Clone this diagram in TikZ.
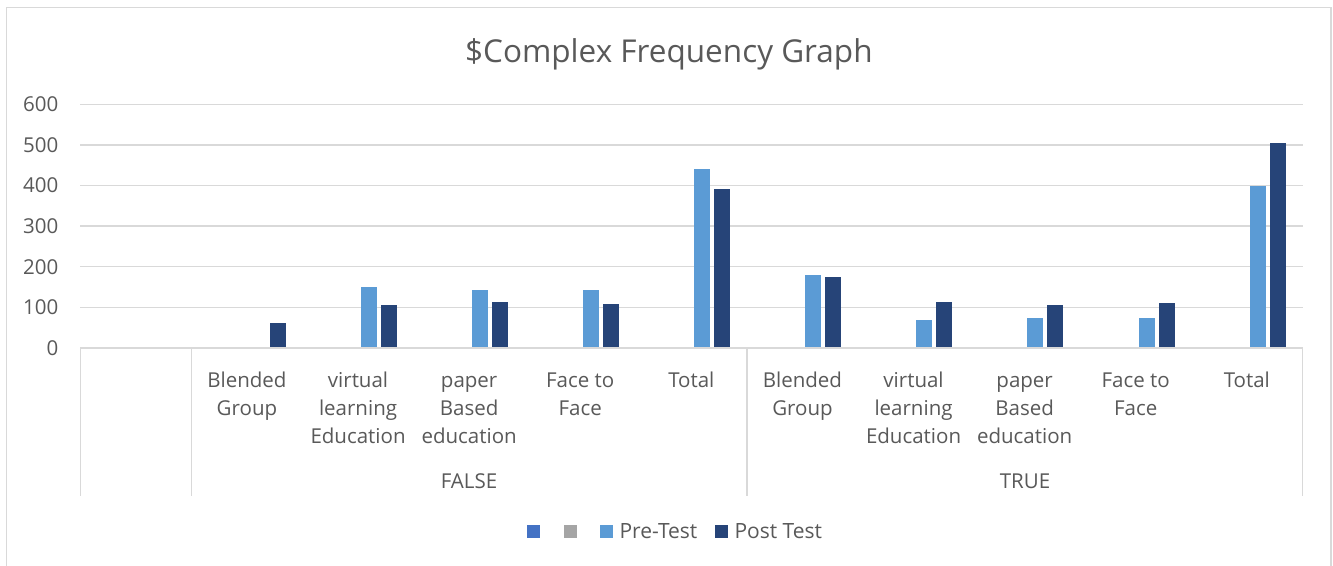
\documentclass[tikz,border=0pt]{standalone}
\usepackage{fontspec}
\setmainfont{Open Sans}
\definecolor{gridc}{HTML}{D9D9D9}
\definecolor{txt}{HTML}{595959}
\definecolor{prec}{HTML}{5B9BD5}
\definecolor{postc}{HTML}{264478}
\definecolor{sone}{HTML}{4472C4}
\definecolor{stwo}{HTML}{A5A5A5}
\newcommand\barpair[3]{%
  \pgfmathsetmacro\cx{80.3+111.1*(#1+0.5)}%
  \fill[prec] (\cx+2.8,348) rectangle (\cx+18.8,348-#2*0.4062);
  \fill[postc] (\cx+22.8,348) rectangle (\cx+38.8,348-#3*0.4062);
}
\newcommand\catlabel[2]{%
  \pgfmathsetmacro\cx{80.3+111.1*(#1+0.5)}%
  \node[catlab] at (\cx,367.4) {\strut #2};
}
\begin{document}
\begin{tikzpicture}[x=1pt,y=-1pt,
  gridline/.style={draw=gridc,line width=1.3pt},
  lab/.style={text=txt,inner sep=0pt,font=\fontsize{20.5}{28}\selectfont},
  catlab/.style={lab,anchor=north,align=center},
  legsq/.style={minimum size=13pt,inner sep=0pt,anchor=north west}]
\useasboundingbox (0,0) rectangle (1333,565);
\fill[white] (0,0) rectangle (1333,565);
% frame
\draw[draw=gridc,line width=1.5pt] (6.5,570) -- (6.5,7.5) -- (1331,7.5) -- (1331,570);
% title
\node[text=txt,inner sep=0pt,anchor=base,font=\fontsize{31.5}{36}\selectfont] (title) at (668.9,62.3) {\$Complex Frequency Graph};
% gridlines and y labels
\foreach \v in {1,...,6} {
  \draw[gridline] (80.3,348-\v*40.62) -- (1302.7,348-\v*40.62);
}
\foreach \v in {0,...,6} {
  \pgfmathtruncatemacro\lbl{\v*100}
  \node[lab,anchor=east] (y\v) at (58.5,348-\v*40.62) {\lbl};
}
% bars
\barpair{1}{0}{62}
\barpair{2}{151}{106}
\barpair{3}{143}{113}
\barpair{4}{143}{108}
\barpair{5}{441}{391}
\barpair{6}{179}{175}
\barpair{7}{68}{113}
\barpair{8}{75}{105}
\barpair{9}{75}{110}
\barpair{10}{399}{505}
% category axis
\draw[gridline] (80.3,348) -- (1302.7,348);
\foreach \xx in {80.3,191.4,746.9,1302.7} {
  \draw[gridline] (\xx,348) -- (\xx,496);
}
\catlabel{1}{Blended\\Group}
\catlabel{2}{virtual\\learning\\Education}
\catlabel{3}{paper\\Based\\education}
\catlabel{4}{Face to\\Face}
\catlabel{5}{Total}
\catlabel{6}{Blended\\Group}
\catlabel{7}{virtual\\learning\\Education}
\catlabel{8}{paper\\Based\\education}
\catlabel{9}{Face to\\Face}
\catlabel{10}{Total}
\node[lab] (false) at (469,481) {FALSE};
\node[lab] (true) at (1025,481) {TRUE};
% legend
\node[legsq,fill=sone] (l1) at (527,525) {};
\node[legsq,fill=stwo] (l2) at (564,525) {};
\node[legsq,fill=prec] (l3) at (600,525) {};
\node[lab,anchor=west,font=\fontsize{21}{28}\selectfont] (l3t) at (619.3,531.5) {Pre-Test};
\node[legsq,fill=postc] (l4) at (715,525) {};
\node[lab,anchor=west,font=\fontsize{21}{28}\selectfont] (l4t) at (734.3,531.5) {Post Test};
\end{tikzpicture}
\end{document}
